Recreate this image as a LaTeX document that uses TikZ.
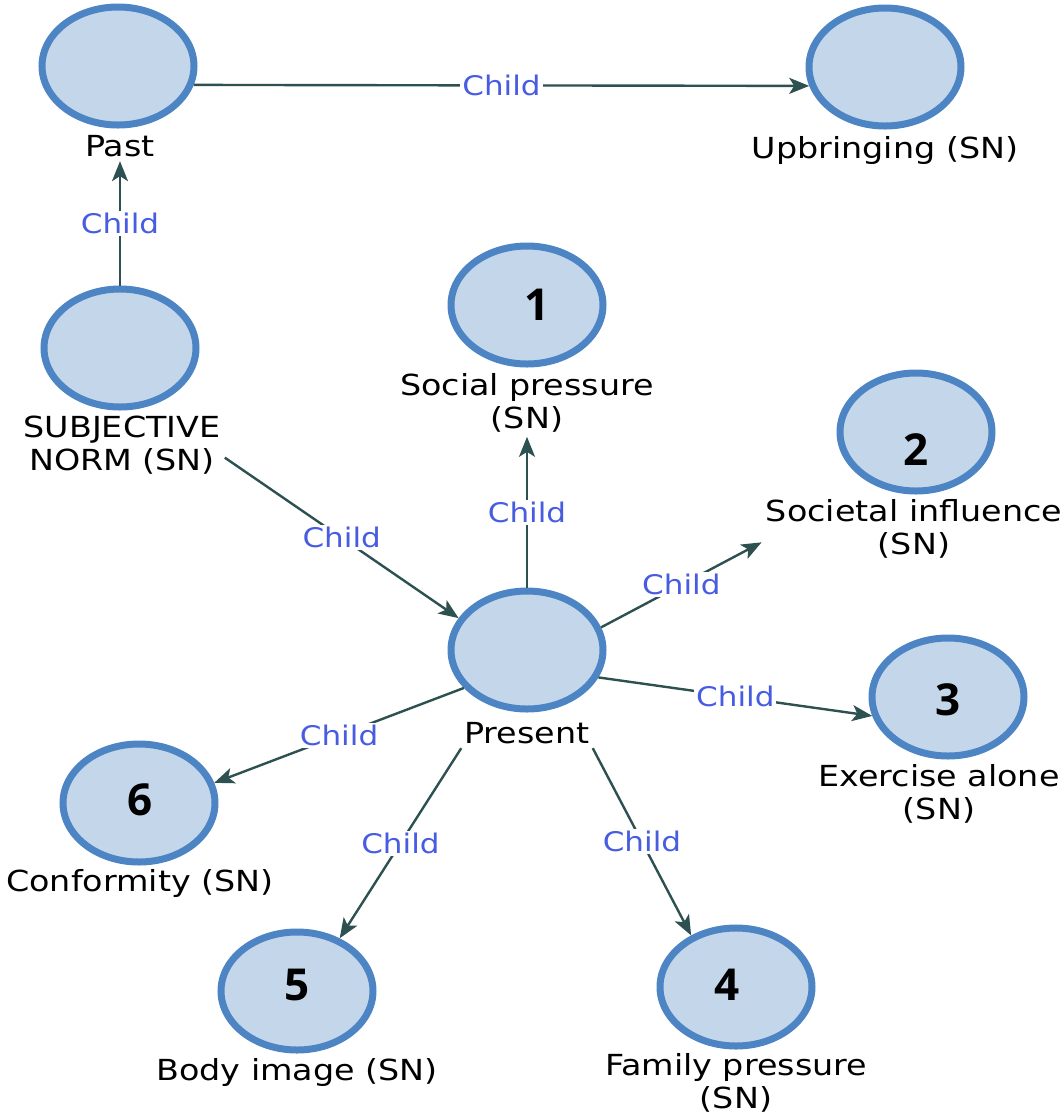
\documentclass[tikz,border=0pt]{standalone}
\usepackage{fontspec}
\setmainfont{DejaVu Sans}[FakeStretch=1.15]
\newfontfamily\numfont{Open Sans}
\usetikzlibrary{shapes.geometric,arrows.meta}
\definecolor{nodefill}{RGB}{196,214,234}
\definecolor{nodeline}{RGB}{76,132,196}
\definecolor{edgecol}{RGB}{45,80,80}
\definecolor{childblue}{RGB}{72,92,225}

\begin{document}
\begin{tikzpicture}[x=0.5pt,y=-0.5pt,
    concept/.style={ellipse,draw=nodeline,fill=nodefill,line width=3.5pt,
      minimum width=76pt,minimum height=59pt,inner sep=0pt},
    caption/.style={align=center,font=\fontsize{14.5}{16.5}\selectfont,inner sep=2pt},
    num/.style={font=\numfont\bfseries\fontsize{22}{26}\selectfont},
    edge/.style={draw=edgecol,line width=1.2pt,-{Stealth[length=10pt,width=8pt,inset=2.5pt]}},
    child/.style={fill=white,text=childblue,font=\fontsize{13.5}{16}\selectfont,inner sep=1pt}]
    \useasboundingbox (0,0) rectangle (1064,1116);

    % top row
    \node[concept] (past) at (118,66) {};
    \node[caption] (pastlbl) at (120,146) {Past};
    \node[concept] (upbr) at (885,67) {};
    \node[caption] (upbrlbl) at (885,150) {Upbringing (SN)};

    % subjective norm
    \node[concept] (sn) at (120,348) {};
    \node[caption] (snlbl) at (122,445) {SUBJECTIVE\\NORM (SN)};

    % present and its children
    \node[concept] (pres) at (527,650) {};
    \node[caption] (preslbl) at (527,733) {Present};

    \node[concept] (soc) at (527,305) {};
    \node[num] (n1) at (537,305) {1};
    \node[caption] (soclbl) at (527,403) {Social pressure\\(SN)};

    \node[concept] (sinf) at (916,432) {};
    \node[num] (n2) at (916,450) {2};
    \node[caption] (sinflbl) at (914,529) {Societal influence\\(SN)};

    \node[concept] (exer) at (948,697) {};
    \node[num] (n3) at (948,700) {3};
    \node[caption] (exerlbl) at (939,794) {Exercise alone\\(SN)};

    \node[concept] (fam) at (736,987) {};
    \node[num] (n4) at (727,985) {4};
    \node[caption] (famlbl) at (736,1083) {Family pressure\\(SN)};

    \node[concept] (body) at (297,991) {};
    \node[num] (n5) at (297,985) {5};
    \node[caption] (bodylbl) at (297,1072) {Body image (SN)};

    \node[concept] (conf) at (139,803) {};
    \node[num] (n6) at (140,800) {6};
    \node[caption] (conflbl) at (140,883) {Conformity (SN)};

    % connectors
    \draw[edge] (past.-14) -- node[child] {Child} (upbr.194);
    \draw[edge] (sn.north) -- node[child] {Child} (pastlbl.south);
    \draw[edge] (snlbl.-7) -- node[child] {Child} (pres.155);
    \draw[edge] (pres.north) -- node[child] {Child} (soclbl.south);
    \draw[edge] (pres.17) -- node[child] {Child} (sinflbl.185);
    \draw[edge] (pres.-21) -- node[child] {Child} (exer.194);
    \draw[edge] (pres.211) -- node[child] {Child} (conf.15);
    \draw[edge] (preslbl.193) -- node[child] {Child} (body.51);
    \draw[edge] (preslbl.-13) -- node[child] {Child} (fam.131);
\end{tikzpicture}
\end{document}
